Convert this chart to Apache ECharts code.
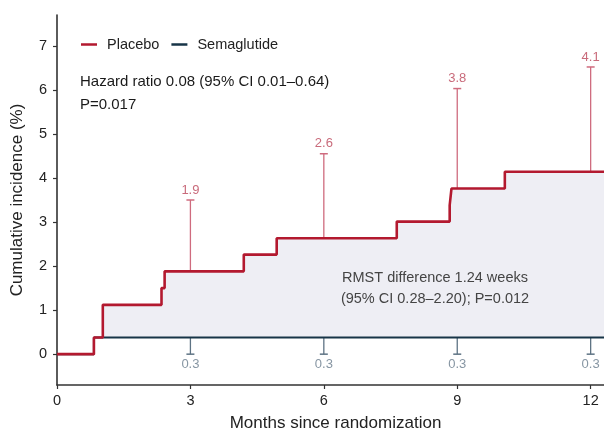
<!DOCTYPE html>
<html>
<head>
<meta charset="utf-8">
<script src="https://cdn.jsdelivr.net/npm/echarts@6/dist/echarts.min.js"></script>
<style>html,body{margin:0;padding:0;background:#fff}#c{width:604px;height:433px}</style>
</head>
<body>
<div id="c"></div>
<script>
// ---- data ----
const placeboTimes = [0, 0.83, 1.03, 2.35, 2.42, 4.2, 4.94, 7.64, 8.83, 8.87, 10.07, 12.3];
const placeboPct   = [0, 0.38, 1.12, 1.5, 1.88, 2.26, 2.63, 3.01, 3.38, 3.76, 4.14, 4.14];
const semaTimes    = [0, 0.83, 12.3];
const semaPct      = [0, 0.38, 0.38];
const ciMonths     = [3, 6, 9, 12];
const placeboEst   = [1.88, 2.63, 3.76, 4.14];
const placeboUpper = [3.5, 4.55, 6.03, 6.52];
const placeboLabel = ['1.9', '2.6', '3.8', '4.1'];
const semaEst      = [0.38, 0.38, 0.38, 0.38];
const semaLower    = [0, 0, 0, 0];
const semaLabel    = ['0.3', '0.3', '0.3', '0.3'];
const xTicks       = [0, 3, 6, 9, 12];
const yTicks       = [0, 1, 2, 3, 4, 5, 6, 7];

const FONT = '"Liberation Sans", Arial, sans-serif';
const RED = '#b3192f', NAVY = '#173447';
const RED_CI = '#cf6b7e', RED_TXT = '#c96b7b';
const NAVY_CI = '#5e7384', NAVY_TXT = '#8796a3';

const placeboData = placeboTimes.map((t, i) => [t, placeboPct[i]]);
const semaData = semaTimes.map((t, i) => [t, semaPct[i]]);

function stepVal(times, vals, t) {
  let v = vals[0];
  for (let i = 0; i < times.length; i++) if (times[i] <= t) v = vals[i];
  return v;
}
const allTimes = Array.from(new Set(placeboTimes.concat(semaTimes))).sort((a, b) => a - b);

const chart = echarts.init(document.getElementById('c'), null, {renderer: 'canvas'});
chart.setOption({
  animation: false,
  backgroundColor: '#fff',
  textStyle: {fontFamily: FONT},
  grid: {left: 57, top: 15, right: 0, bottom: 48, containLabel: false, outerBoundsMode: 'none'},
  legend: {
    left: 76, top: 32,
    icon: 'rect', itemWidth: 16, itemHeight: 2.5, itemGap: 12,
    textStyle: {fontSize: 14.5, color: '#222', fontFamily: FONT, padding: [0, 0, 0, 5]},
    data: [{name: 'Placebo', itemStyle: {color: RED}}, {name: 'Semaglutide', itemStyle: {color: NAVY}}]
  },
  xAxis: {
    type: 'value', min: 0, max: 12.3,
    name: 'Months since randomization', nameLocation: 'middle', nameGap: 30,
    nameTextStyle: {fontSize: 17, color: '#222', fontFamily: FONT, padding: [0, 0, 0, 10]},
    axisLine: {show: true, onZero: false, lineStyle: {color: '#333', width: 1.6}},
    axisTick: {show: true, length: 4, customValues: xTicks, lineStyle: {color: '#333', width: 1.2}},
    axisLabel: {customValues: xTicks, fontSize: 14.5, color: '#222', margin: 8, fontFamily: FONT},
    splitLine: {show: false}
  },
  yAxis: {
    type: 'value', min: -0.7, max: 7.7,
    name: 'Cumulative incidence (%)', nameLocation: 'middle', nameGap: 31,
    nameTextStyle: {fontSize: 17, color: '#222', fontFamily: FONT},
    axisLine: {show: true, onZero: false, lineStyle: {color: '#333', width: 1.6}},
    axisTick: {show: true, length: 4, customValues: yTicks, lineStyle: {color: '#333', width: 1.2}},
    axisLabel: {customValues: yTicks, fontSize: 14.5, color: '#222', margin: 10, fontFamily: FONT},
    splitLine: {show: false}
  },
  graphic: [
    {type: 'text', z: 100, left: 80, top: 74, style: {text: 'Hazard ratio 0.08 (95% CI 0.01\u20130.64)', fontSize: 15, fill: '#1a1a1a', fontFamily: FONT}},
    {type: 'text', z: 100, left: 80, top: 97, style: {text: 'P=0.017', fontSize: 15, fill: '#1a1a1a', fontFamily: FONT}},
    {type: 'text', z: 100, x: 435, y: 278, style: {text: 'RMST difference 1.24 weeks', fontSize: 14.5, fill: '#444', align: 'center', verticalAlign: 'middle', fontFamily: FONT}},
    {type: 'text', z: 100, x: 435, y: 299, style: {text: '(95% CI 0.28\u20132.20); P=0.012', fontSize: 14.5, fill: '#444', align: 'center', verticalAlign: 'middle', fontFamily: FONT}}
  ],
  series: [
    {
      type: 'custom', name: 'shade', silent: true, z: 1,
      data: [0],
      renderItem: function (params, api) {
        const top = [], bot = [];
        for (let i = 0; i < allTimes.length; i++) {
          const t = allTimes[i];
          const tNext = i + 1 < allTimes.length ? allTimes[i + 1] : t;
          const p = stepVal(placeboTimes, placeboPct, t);
          const s = stepVal(semaTimes, semaPct, t);
          top.push(api.coord([t, p]), api.coord([tNext, p]));
          bot.push(api.coord([t, s]), api.coord([tNext, s]));
        }
        const pts = top.concat(bot.reverse());
        return {type: 'polygon', shape: {points: pts}, style: {fill: '#eeeef4', stroke: null}};
      }
    },
    {
      name: 'Semaglutide', type: 'line', step: 'end', data: semaData, z: 3,
      symbol: 'none', lineStyle: {color: NAVY, width: 2}, itemStyle: {color: NAVY}
    },
    {
      name: 'Placebo', type: 'line', step: 'end', data: placeboData, z: 4,
      symbol: 'none', lineStyle: {color: RED, width: 2.6}, itemStyle: {color: RED}
    },
    {
      type: 'custom', name: 'placeboCI', z: 2, silent: true,
      data: ciMonths.map((m, i) => [m, placeboEst[i], placeboUpper[i]]),
      renderItem: function (params, api) {
        const i = params.dataIndex;
        const a = api.coord([api.value(0), api.value(1)]);
        const b = api.coord([api.value(0), api.value(2)]);
        return {type: 'group', children: [
          {type: 'line', shape: {x1: a[0], y1: a[1], x2: b[0], y2: b[1]}, style: {stroke: RED_CI, lineWidth: 1.3}},
          {type: 'line', shape: {x1: b[0] - 4, y1: b[1], x2: b[0] + 4, y2: b[1]}, style: {stroke: RED_CI, lineWidth: 1.5}},
          {type: 'text', x: b[0], y: b[1] - 10, style: {text: placeboLabel[i], fontSize: 13, fill: RED_TXT, align: 'center', verticalAlign: 'middle', fontFamily: FONT}}
        ]};
      }
    },
    {
      type: 'custom', name: 'semaCI', z: 2, silent: true,
      data: ciMonths.map((m, i) => [m, semaEst[i], semaLower[i]]),
      renderItem: function (params, api) {
        const i = params.dataIndex;
        const a = api.coord([api.value(0), api.value(1)]);
        const b = api.coord([api.value(0), api.value(2)]);
        return {type: 'group', children: [
          {type: 'line', shape: {x1: a[0], y1: a[1], x2: b[0], y2: b[1]}, style: {stroke: NAVY_CI, lineWidth: 1.3}},
          {type: 'line', shape: {x1: b[0] - 4, y1: b[1], x2: b[0] + 4, y2: b[1]}, style: {stroke: NAVY_CI, lineWidth: 1.5}},
          {type: 'text', x: b[0], y: b[1] + 10, style: {text: semaLabel[i], fontSize: 13, fill: NAVY_TXT, align: 'center', verticalAlign: 'middle', fontFamily: FONT}}
        ]};
      }
    }
  ]
});
</script>
</body>
</html>
